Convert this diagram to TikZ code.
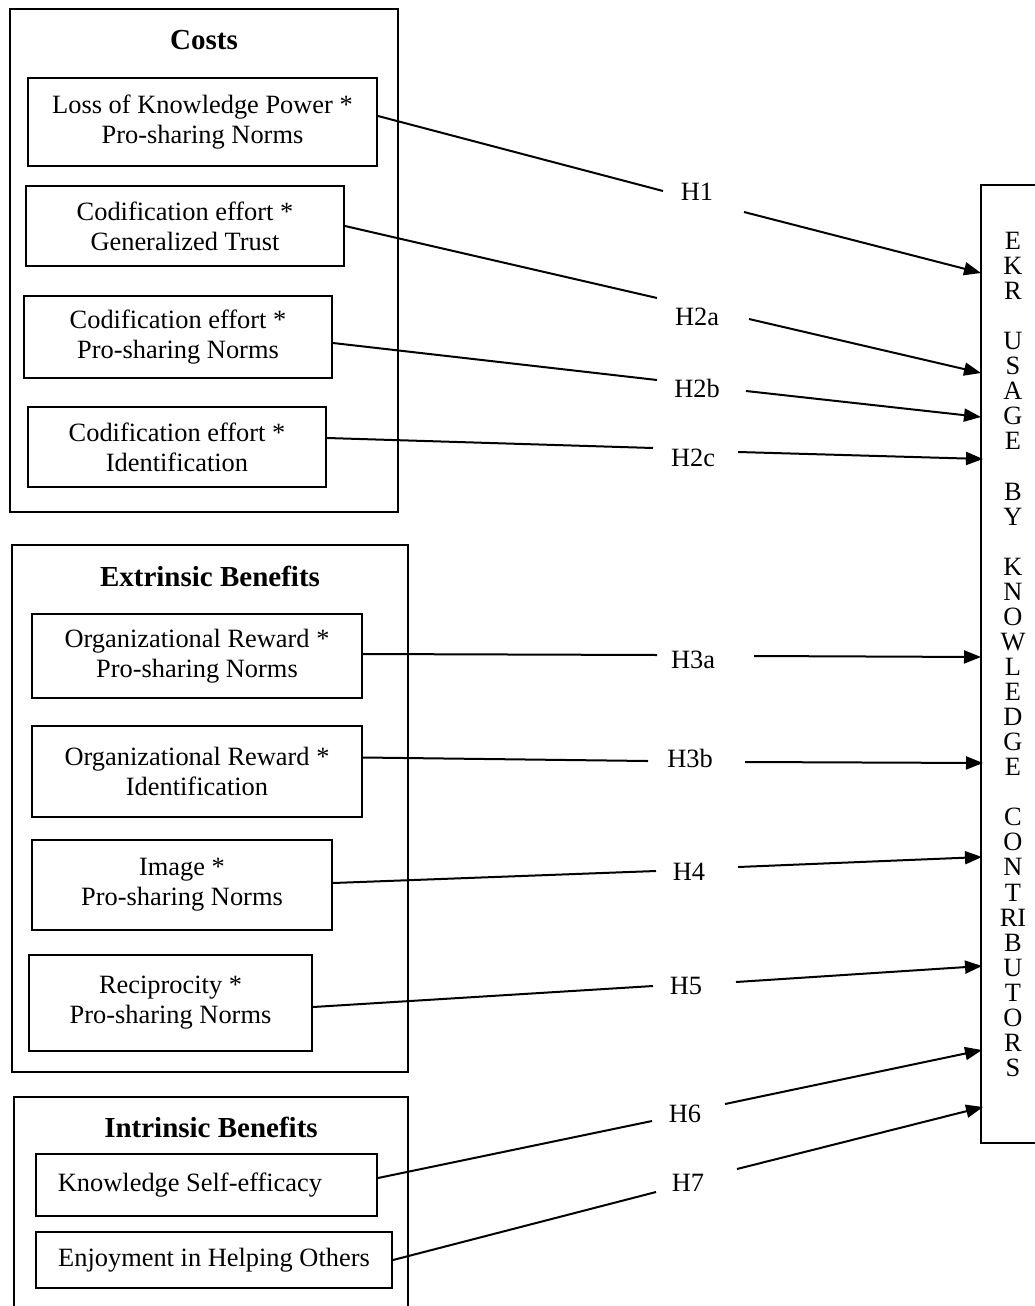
\documentclass[tikz,border=0pt]{standalone}
\usepackage{fontspec}
\setmainfont{Liberation Serif}
\usetikzlibrary{arrows.meta}
\begin{document}
\begin{tikzpicture}[x=1pt,y=-1pt,
  outerbox/.style={draw, line width=2.2pt, rectangle, inner sep=0pt},
  innerbox/.style={draw, line width=2pt, rectangle, inner sep=0pt, align=center, font=\fontsize{26.4}{30}\selectfont},
  grouptitle/.style={font=\fontsize{29}{32}\selectfont\bfseries, inner sep=0pt},
  hyplabel/.style={font=\fontsize{26.4}{30}\selectfont, inner sep=0pt},
  link/.style={line width=2pt},
  arrowlink/.style={line width=2pt, -{Triangle[length=17pt,width=13pt]}}]
\useasboundingbox (0,0) rectangle (1035,1306);
\clip (0,0) rectangle (1035,1306);

% Costs group
\node[outerbox, minimum width=388pt, minimum height=503pt] (costs) at (204,260.5) {};
\node[grouptitle] (tcosts) at (204,40) {Costs};
\node[innerbox, minimum width=349pt, minimum height=88pt] (b1) at (202.5,122) {Loss of Knowledge Power *\\Pro-sharing Norms};
\node[innerbox, minimum width=318pt, minimum height=80pt] (b2) at (185,226) {Codification effort *\\Generalized Trust};
\node[innerbox, minimum width=308pt, minimum height=82pt] (b3) at (178,337) {Codification effort *\\Pro-sharing Norms};
\node[innerbox, minimum width=298pt, minimum height=80pt] (b4) at (177,447) {Codification effort *\\Identification};

% Extrinsic group
\node[outerbox, minimum width=396pt, minimum height=527pt] (extr) at (210,808.5) {};
\node[grouptitle] (textr) at (210,576) {Extrinsic Benefits};
\node[innerbox, minimum width=330pt, minimum height=84pt] (b5) at (197,656) {Organizational Reward *\\Pro-sharing Norms};
\node[innerbox, minimum width=330pt, minimum height=91pt] (b6) at (197,771.5) {Organizational Reward *\\Identification};
\node[innerbox, minimum width=300pt, minimum height=90pt] (b7) at (182,885) {Image *\\Pro-sharing Norms};
\node[innerbox, minimum width=283pt, minimum height=96pt] (b8) at (170.5,1003) {Reciprocity *\\Pro-sharing Norms};

% Intrinsic group
\node[outerbox, minimum width=394pt, minimum height=223pt] (intr) at (211,1208.5) {};
\node[grouptitle] (tintr) at (211,1127) {Intrinsic Benefits};
\node[innerbox, minimum width=341pt, minimum height=62pt] (b9) at (206.5,1185) {Knowledge Self-efficacy\hspace{33pt}};
\node[innerbox, minimum width=356pt, minimum height=56pt] (b10) at (214,1260) {Enjoyment in Helping Others};

% Outcome box
\node[outerbox, minimum width=64pt, minimum height=958pt] (ekr) at (1013,664) {};
\node[font=\fontsize{26.4}{25.06}\selectfont, align=center, inner sep=0pt, anchor=north] (ekrtext) at (1013,232)
  {E\\K\\R\\\mbox{}\\U\\S\\A\\G\\E\\\mbox{}\\B\\Y\\\mbox{}\\K\\N\\O\\W\\L\\E\\D\\G\\E\\\mbox{}\\C\\O\\N\\T\\RI\\B\\U\\T\\O\\R\\S};

% Hypothesis labels
\node[hyplabel] (H1)  at (697,192) {H1};
\node[hyplabel] (H2a) at (697,317) {H2a};
\node[hyplabel] (H2b) at (697,388) {H2b};
\node[hyplabel] (H2c) at (693,458) {H2c};
\node[hyplabel] (H3a) at (693,660) {H3a};
\node[hyplabel] (H3b) at (690,758) {H3b};
\node[hyplabel] (H4)  at (689,872) {H4};
\node[hyplabel] (H5)  at (686,986) {H5};
\node[hyplabel] (H6)  at (685,1114) {H6};
\node[hyplabel] (H7)  at (688,1183) {H7};

% Gap ends and targets
\coordinate (h1a) at (663,191);  \coordinate (h1b) at (744,212);  \coordinate (t1) at (981,273);
\coordinate (h2aa) at (657,298); \coordinate (h2ab) at (749,319); \coordinate (t2a) at (981,373);
\coordinate (h2ba) at (657,380); \coordinate (h2bb) at (746,391); \coordinate (t2b) at (981,417);
\coordinate (h2ca) at (653,448); \coordinate (h2cb) at (738,452); \coordinate (t2c) at (983,459);
\coordinate (h3aa) at (657,655); \coordinate (h3ab) at (754,656); \coordinate (t3a) at (981,657);
\coordinate (h3ba) at (648,761); \coordinate (h3bb) at (745,762); \coordinate (t3b) at (983,763);
\coordinate (h4a) at (656,871);  \coordinate (h4b) at (738,867);  \coordinate (t4) at (982,857);
\coordinate (h5a) at (653,986);  \coordinate (h5b) at (736,982);  \coordinate (t5) at (982,966);
\coordinate (h6a) at (652,1121); \coordinate (h6b) at (725,1104); \coordinate (t6) at (982,1050);
\coordinate (h7a) at (656,1192); \coordinate (h7b) at (737,1169); \coordinate (t7) at (983,1107);

% Connectors
\draw[link] ([yshift=6pt]b1.east) -- (h1a);   \draw[arrowlink] (h1b) -- (t1);
\draw[link] (b2.east) -- (h2aa);              \draw[arrowlink] (h2ab) -- (t2a);
\draw[link] ([yshift=-6pt]b3.east) -- (h2ba); \draw[arrowlink] (h2bb) -- (t2b);
\draw[link] ([yshift=9pt]b4.east) -- (h2ca);  \draw[arrowlink] (h2cb) -- (t2c);
\draw[link] ([yshift=2pt]b5.east) -- (h3aa);  \draw[arrowlink] (h3ab) -- (t3a);
\draw[link] ([yshift=14pt]b6.east) -- (h3ba); \draw[arrowlink] (h3bb) -- (t3b);
\draw[link] ([yshift=2pt]b7.east) -- (h4a);   \draw[arrowlink] (h4b) -- (t4);
\draw[link] ([yshift=-4pt]b8.east) -- (h5a);  \draw[arrowlink] (h5b) -- (t5);
\draw[link] ([yshift=7pt]b9.east) -- (h6a);   \draw[arrowlink] (h6b) -- (t6);
\draw[link] (b10.east) -- (h7a);              \draw[arrowlink] (h7b) -- (t7);
\end{tikzpicture}
\end{document}
